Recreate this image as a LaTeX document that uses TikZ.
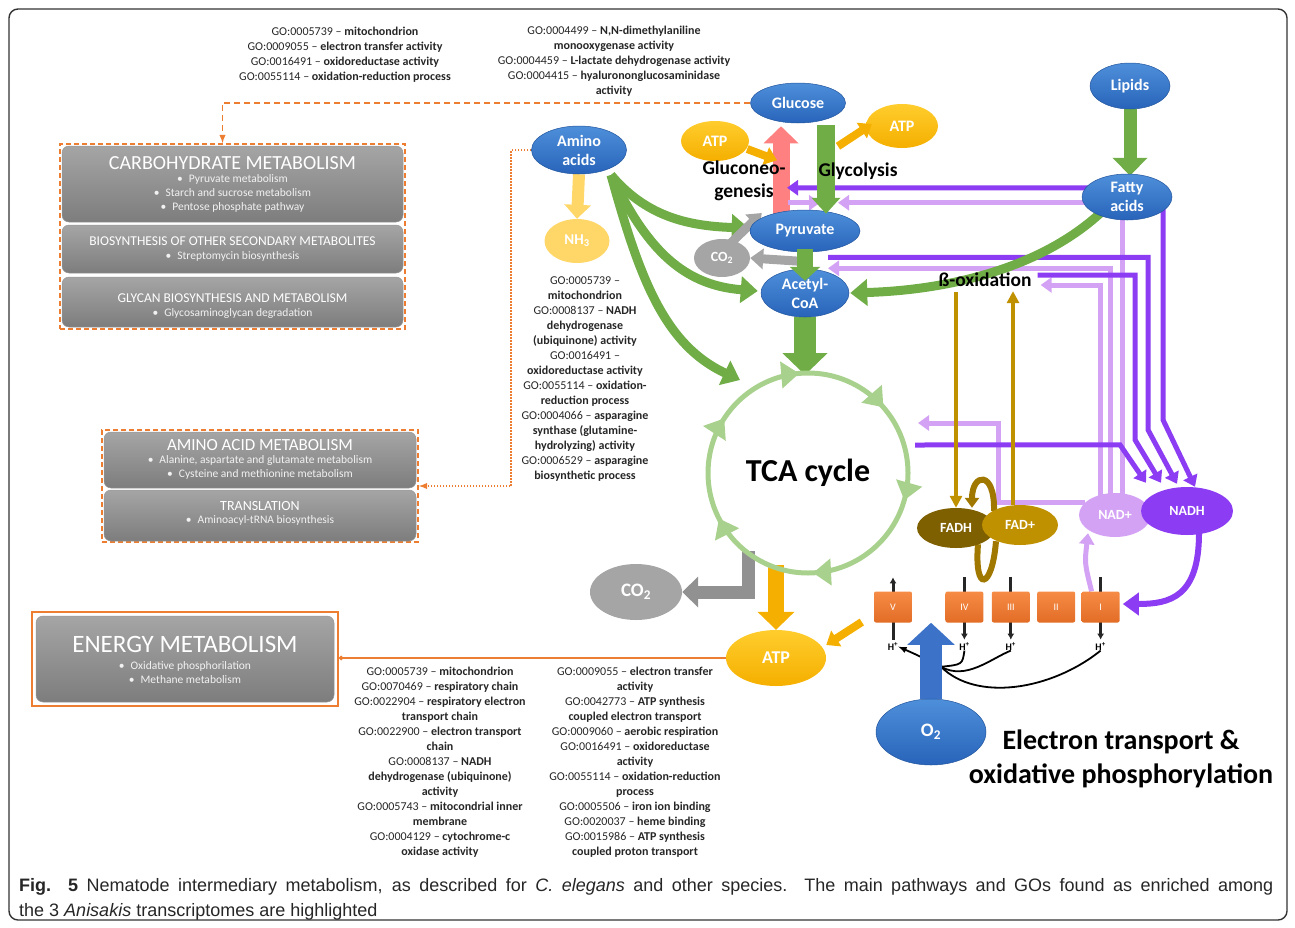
\documentclass[tikz,border=0pt]{standalone}
\usepackage{fontspec}
\setmainfont{Carlito}
\newfontfamily\capfont{Liberation Sans}
\usetikzlibrary{arrows.meta,calc,positioning,shapes.geometric,decorations.markings}
\newcommand{\blt}{\textbullet\hspace{6pt}}
\newcommand{\goid}[1]{GO:#1 –}
\pgfdeclarelayer{bg}
\pgfsetlayers{bg,main}
\definecolor{bluetop}{RGB}{78,143,218}
\definecolor{bluebot}{RGB}{40,100,186}
\definecolor{atptop}{RGB}{255,205,45}
\definecolor{atpbot}{RGB}{245,175,0}
\definecolor{nhyel}{RGB}{255,215,105}
\definecolor{co2gray}{RGB}{165,165,165}
\definecolor{co2dk}{RGB}{145,145,145}
\definecolor{grn}{RGB}{112,173,71}
\definecolor{tcagreen}{RGB}{169,209,142}
\definecolor{salmon}{RGB}{255,128,128}
\definecolor{orangeln}{RGB}{237,125,49}
\definecolor{cmtop}{RGB}{246,140,70}
\definecolor{cmbot}{RGB}{226,108,38}
\definecolor{gold}{RGB}{191,144,0}
\definecolor{goldd}{RGB}{160,120,0}
\definecolor{fadhc}{RGB}{127,96,0}
\definecolor{dpurp}{RGB}{140,60,242}
\definecolor{lpurp}{RGB}{212,162,245}
\definecolor{cattop}{RGB}{165,165,165}
\definecolor{catbot}{RGB}{125,125,125}
\definecolor{o2blue}{RGB}{60,115,200}
\tikzset{
    framesty/.style={draw=black!80, line width=1.4pt, rounded corners=9pt},
    bluesty/.style={ellipse, inner sep=0pt, top color=bluetop, bottom color=bluebot, draw=bluebot!85!black, line width=0.5pt, text=white, align=center, font=\bfseries\fontsize{16}{19}\selectfont},
    atpsty/.style={ellipse, inner sep=0pt, top color=atptop, bottom color=atpbot, text=white, font=\bfseries\fontsize{16}{19}\selectfont},
    nhsty/.style={ellipse, inner sep=0pt, fill=nhyel, text=white, font=\bfseries\fontsize{15}{18}\selectfont},
    co2sty/.style={ellipse, inner sep=0pt, fill=co2gray, text=white, font=\bfseries\fontsize{14}{17}\selectfont},
    fadsty/.style={ellipse, inner sep=0pt, text=white, minimum width=78pt, minimum height=40pt, font=\bfseries\fontsize{14}{17}\selectfont},
    cmplxsty/.style={rectangle, rounded corners=2pt, top color=cmtop, bottom color=cmbot, text=white, minimum width=38pt, minimum height=31pt, inner sep=0pt, font=\fontsize{10}{11}\selectfont},
    hsty/.style={inner sep=0pt, font=\bfseries\fontsize{10}{11}\selectfont},
    gosty/.style={inner sep=0pt, align=center, anchor=north, text=black!85, font=\fontsize{12}{15}\selectfont},
    grpsty/.style={rectangle, inner sep=0pt, draw=orangeln, line width=1.8pt, dash pattern=on 5pt off 3pt},
    catsty/.style={rectangle, rounded corners=7pt, inner sep=0pt, top color=cattop, bottom color=catbot, draw=catbot!80!white, line width=0.5pt},
    cattitsty/.style={inner sep=0pt, text=white},
    catlststy/.style={inner sep=0pt, align=center, text=white!90!gray, font=\fontsize{11.5}{14}\selectfont},
    lblsty/.style={inner sep=0pt, align=center, font=\bfseries\fontsize{19.5}{23}\selectfont},
    tcasty/.style={inner sep=0pt, font=\bfseries\fontsize{32}{36}\selectfont},
    tcaringsty/.style={draw=tcagreen, line width=5pt, postaction={decorate}, decoration={markings,
        mark=at position 0.114 with {\arrowreversed{Triangle[width=26pt,length=18pt,color=tcagreen]}},
        mark=at position 0.264 with {\arrowreversed{Triangle[width=26pt,length=18pt,color=tcagreen]}},
        mark=at position 0.408 with {\arrowreversed{Triangle[width=26pt,length=18pt,color=tcagreen]}},
        mark=at position 0.575 with {\arrowreversed{Triangle[width=26pt,length=18pt,color=tcagreen]}},
        mark=at position 0.758 with {\arrowreversed{Triangle[width=26pt,length=18pt,color=tcagreen]}},
        mark=at position 0.956 with {\arrowreversed{Triangle[width=26pt,length=18pt,color=tcagreen]}}}},
    grncursty/.style={draw=grn, line width=9pt, -{Triangle[width=26pt,length=17pt]}},
    dpsty/.style={draw=dpurp, line width=5pt, -{Triangle[width=15pt,length=11pt]}},
    lpsty/.style={draw=lpurp, line width=5pt, -{Triangle[width=15pt,length=11pt]}},
    goldsty/.style={draw=gold, line width=3.5pt, -{Triangle[width=12pt,length=12pt]}},
    yelsty/.style={draw=atpbot, line width=8pt, -{Triangle[width=18pt,length=12pt]}},
    graysty/.style={draw=co2gray, line width=9pt, -{Triangle[width=20pt,length=13pt]}},
    hlinesty/.style={draw=black!85, line width=3pt},
    blkcursty/.style={draw=black, line width=1.8pt},
    orgsty/.style={draw=orangeln, line width=1.5pt},
    capsty/.style={inner sep=0pt, text width=1254pt, align=justify, text=black!85, font=\capfont\fontsize{18}{25}\selectfont},
}

\begin{document}
\begin{tikzpicture}[x=1pt,y=-1pt,>=latex]
  \useasboundingbox (0,0) rectangle (1295,927);
  \draw[framesty] (9,9) rectangle (1287,920);

  % category boxes
  \node[grpsty, minimum width=345pt, minimum height=185pt] (carbgrp) at (232.5,236.5) {};
  \node[catsty, minimum width=341pt, minimum height=76pt] (carbbox) at (232.5,184) {};
  \node[cattitsty, font=\fontsize{20}{24}\selectfont] (carbtit) at ($(carbbox.north)+(0,17)$) {CARBOHYDRATE METABOLISM};
  \node[catlststy, anchor=north] (carblst) at ($(carbbox.north)+(0,29)$) {\blt Pyruvate metabolism\\ \blt Starch and sucrose metabolism\\ \blt Pentose phosphate pathway};
  \node[catsty, minimum width=341pt, minimum height=48pt] (biosbox) at (232.5,249) {};
  \node[cattitsty, font=\fontsize{13.5}{16}\selectfont] (biostit) at ($(biosbox.north)+(0,16)$) {BIOSYNTHESIS OF OTHER SECONDARY METABOLITES};
  \node[catlststy] (bioslst) at ($(biosbox.north)+(0,32)$) {\blt Streptomycin biosynthesis};
  \node[catsty, minimum width=341pt, minimum height=50pt] (glycbox) at (232.5,302) {};
  \node[cattitsty, font=\fontsize{13.5}{16}\selectfont] (glyctit) at ($(glycbox.north)+(0,21)$) {GLYCAN BIOSYNTHESIS AND METABOLISM};
  \node[catlststy] (glyclst) at ($(glycbox.north)+(0,37)$) {\blt Glycosaminoglycan degradation};

  \node[grpsty, minimum width=316pt, minimum height=112pt] (aagrp) at (260,486) {};
  \node[catsty, minimum width=312pt, minimum height=56pt] (aabox) at (260,460) {};
  \node[cattitsty, font=\fontsize{17}{20}\selectfont] (aatit) at ($(aabox.north)+(0,13)$) {AMINO ACID METABOLISM};
  \node[catlststy, anchor=north] (aalst) at ($(aabox.north)+(0,24)$) {\blt Alanine, aspartate and glutamate metabolism\\ \blt Cysteine and methionine metabolism};
  \node[catsty, minimum width=312pt, minimum height=51pt] (trbox) at (260,515.5) {};
  \node[cattitsty, font=\fontsize{14}{17}\selectfont] (trtit) at ($(trbox.north)+(0,16)$) {TRANSLATION};
  \node[catlststy] (trlst) at ($(trbox.north)+(0,31)$) {\blt Aminoacyl-tRNA biosynthesis};

  \node[rectangle, draw=orangeln, line width=1.8pt, minimum width=306pt, minimum height=94pt, inner sep=0pt] (engrp) at (185,659) {};
  \node[catsty, minimum width=298pt, minimum height=86pt] (enbox) at (185,659) {};
  \node[cattitsty, font=\fontsize{25}{28}\selectfont] (entit) at ($(enbox.north)+(0,29)$) {ENERGY METABOLISM};
  \node[catlststy, anchor=north] (enlst) at ($(enbox.north)+(0,46)$) {\blt Oxidative phosphorilation\\ \blt Methane metabolism};

  % GO terms
  \node[gosty] (gotl) at (345,27) {\goid{0005739} \textbf{mitochondrion}\\ \goid{0009055} \textbf{electron transfer activity}\\ \goid{0016491} \textbf{oxidoreductase activity}\\ \goid{0055114} \textbf{oxidation-reduction process}};
  \node[gosty] (gotm) at (614,26) {\goid{0004499} \textbf{N,N-dimethylaniline}\\ \textbf{monooxygenase activity}\\ \goid{0004459} \textbf{L-lactate dehydrogenase activity}\\ \goid{0004415} \textbf{hyalurononglucosaminidase}\\ \textbf{activity}};
  \node[gosty] (gomid) at (585,277) {\goid{0005739}\\ \textbf{mitochondrion}\\ \goid{0008137} \textbf{NADH}\\ \textbf{dehydrogenase}\\ \textbf{(ubiquinone) activity}\\ \goid{0016491}\\ \textbf{oxidoreductase activity}\\ \goid{0055114} \textbf{oxidation-}\\ \textbf{reduction process}\\ \goid{0004066} \textbf{asparagine}\\ \textbf{synthase (glutamine-}\\ \textbf{hydrolyzing) activity}\\ \goid{0006529} \textbf{asparagine}\\ \textbf{biosynthetic process}};
  \node[gosty] (gobl) at (440,667) {\goid{0005739} \textbf{mitochondrion}\\ \goid{0070469} \textbf{respiratory chain}\\ \goid{0022904} \textbf{respiratory electron}\\ \textbf{transport chain}\\ \goid{0022900} \textbf{electron transport}\\ \textbf{chain}\\ \goid{0008137} \textbf{NADH}\\ \textbf{dehydrogenase (ubiquinone)}\\ \textbf{activity}\\ \goid{0005743} \textbf{mitocondrial inner}\\ \textbf{membrane}\\ \goid{0004129} \textbf{cytochrome-c}\\ \textbf{oxidase activity}};
  \node[gosty] (gobr) at (635,667) {\goid{0009055} \textbf{electron transfer}\\ \textbf{activity}\\ \goid{0042773} \textbf{ATP synthesis}\\ \textbf{coupled electron transport}\\ \goid{0009060} \textbf{aerobic respiration}\\ \goid{0016491} \textbf{oxidoreductase}\\ \textbf{activity}\\ \goid{0055114} \textbf{oxidation-reduction}\\ \textbf{process}\\ \goid{0005506} \textbf{iron ion binding}\\ \goid{0020037} \textbf{heme binding}\\ \goid{0015986} \textbf{ATP synthesis}\\ \textbf{coupled proton transport}};

  % metabolites
  \node[bluesty, minimum width=95pt, minimum height=40pt] (glu) at (798,103) {Glucose};
  \node[bluesty, minimum width=80pt, minimum height=46pt] (lip) at (1130,86) {Lipids};
  \node[bluesty, minimum width=95pt, minimum height=48pt] (amino) at (579,150) {Amino\\acids};
  \node[bluesty, minimum width=90pt, minimum height=46pt] (fatty) at (1127,197) {Fatty\\acids};
  \node[bluesty, minimum width=110pt, minimum height=42pt] (pyr) at (805,231) {Pyruvate};
  \node[bluesty, minimum width=88pt, minimum height=48pt] (acoa) at (805,293) {Acetyl-\\CoA};
  \node[atpsty, minimum width=68pt, minimum height=40pt] (atpl) at (715,141) {ATP};
  \node[atpsty, minimum width=72pt, minimum height=44pt] (atpr) at (902,126) {ATP};
  \node[atpsty, minimum width=100pt, minimum height=56pt, font=\bfseries\fontsize{18}{21}\selectfont] (atpb) at (776,658) {ATP};
  \node[nhsty, minimum width=65pt, minimum height=44pt] (nh3) at (577,241) {NH\textsubscript{3}};
  \node[co2sty, minimum width=56pt, minimum height=38pt] (co2s) at (722,258) {CO\textsubscript{2}};
  \node[co2sty, minimum width=92pt, minimum height=56pt, font=\bfseries\fontsize{19}{22}\selectfont] (co2b) at (636,592) {CO\textsubscript{2}};
  \node[fadsty, fill=fadhc] (fadh) at (956,528) {FADH};
  \node[fadsty, fill=gold, minimum width=76pt] (fadp) at (1020,525) {FAD+};
  \node[fadsty, fill=lpurp, minimum width=72pt, minimum height=44pt] (nadp) at (1115,515) {NAD+};
  \node[fadsty, fill=dpurp, minimum width=92pt, minimum height=48pt] (nadh) at (1187,511) {NADH};
  \node[bluesty, minimum width=110pt, minimum height=66pt, font=\bfseries\fontsize{19}{22}\selectfont] (o2) at (931,732) {O\textsubscript{2}};
  \node[tcasty] (tca) at (808,473) {TCA cycle};
  \node[lblsty] (boxt) at (985,280) {ß-oxidation};

  % respiratory chain
  \node[cmplxsty] (cV) at (893,607) {V};
  \node[cmplxsty, right=33pt of cV] (cIV) {IV};
  \node[cmplxsty, right=8pt of cIV] (cIII) {III};
  \node[cmplxsty, right=7pt of cIII] (cII) {II};
  \node[cmplxsty, right=6pt of cII] (cI) {I};
  \node[hsty, below=20pt of cV] (hV) {H\textsuperscript{+}};
  \node[hsty, below=20pt of cIV] (hIV) {H\textsuperscript{+}};
  \node[hsty, below=20pt of cIII] (hIII) {H\textsuperscript{+}};
  \node[hsty, below=20pt of cI] (hI) {H\textsuperscript{+}};
  \node[lblsty, font=\bfseries\fontsize{28}{34}\selectfont] (etxt) at (1121,759) {Electron transport \&\\oxidative phosphorylation};

  \begin{pgfonlayer}{bg}
    \draw[orgsty, line width=1.8pt, dash pattern=on 6pt off 4pt, ->] (glu.west) -| ($(carbgrp.north)+(-10,0)$);
    \draw[orgsty, line width=1.8pt, dash pattern=on 1.5pt off 1.5pt, ->] (amino.west) -- ++(-20,0) |- (aagrp.east);
    \draw[orgsty, -{Circle[length=4.5pt]}] (atpb.west) -- (engrp.east |- atpb.west);
    % glucose / pyruvate
    \draw[draw=salmon, line width=17pt, -{Triangle[width=34pt,length=17pt]}] ($(pyr.north)+(-24,6)$) -- ($(glu.south)+(-17,3)$);
    \draw[yelsty] ($(atpl.east)+(-2,8)$) -- ($(glu.south)+(-21,37)$);
    % purple lines
    \draw[lpsty] ($(nadp.north)+(7,5)$) |- ($(pyr.north)+(33,-7)$);
    \draw[lpsty] ($(nadp.north)+(-5,5)$) |- ($(pyr.south)+(23,16)$);
    \draw[lpsty] ($(nadp.north)+(-15,5)$) |- ($(boxt.east)+(9,5)$);
    \draw[lpsty] ($(nadp.west)+(6,-13)$) -| ($(tca.center)+(190,-50)$) -- ($(tca.center)+(110,-50)$);
    \draw[lpsty] ($(pyr.north)+(-17,-7)$) -- ($(pyr.north)+(15,-7)$);
    \draw[lpsty] ($(cI.north)+(-9,0)$) .. controls ($(cI.north)+(-16,-28)$) .. ($(nadp.south)+(-27,-4)$);
    \draw[dpsty, {Triangle[width=15pt,length=11pt]}-{Triangle[width=15pt,length=11pt]}] ($(pyr.north)+(-18,-22)$) -| ($(nadh.north)+(-24,-67)$) -- ($(nadh.north)+(8,0)$);
    \draw[dpsty] ($(pyr.south)+(23,5)$) -| ($(nadh.north)+(-39,-57)$) -- ($(nadh.north)+(-10,-3)$);
    \draw[dpsty] ($(boxt.east)+(6,-5)$) -| ($(nadh.north)+(-52,-47)$) -- ($(nadh.north)+(-26,-4)$);
    \draw[dpsty] ($(tca.center)+(107,-28)$) -- ($(nadh.north)+(-67,-42)$) -- ($(nadh.north)+(-41,-4)$);
    \draw[draw=dpurp, line width=6pt, -{Triangle[width=22pt,length=16pt]}] ($(nadh.south)+(12,-2)$) .. controls ($(nadh.south)+(12,62)$) and ($(cI.east)+(50,-3)$) .. ($(cI.east)+(3,-3)$);
    % green routes
    \draw[grncursty] ($(amino.center)+(32,25)$) .. controls (645,215) and (685,226) .. ($(pyr.west)+(-1,-3)$);
    \draw[grncursty] ($(amino.center)+(32,25)$) .. controls (645,245) and (680,285) .. ($(acoa.west)+(-3,-2)$);
    \draw[grncursty] ($(amino.center)+(32,25)$) .. controls (640,280) and (665,345) .. ($(tca.center)+(-68,-93)$);
    \draw[grncursty] ($(fatty.south west)+(5,0)$) .. controls (1040,268) and (950,290) .. ($(acoa.east)+(1,0)$);
    \draw[draw=grn, line width=13pt, -{Triangle[width=34pt,length=18pt]}] (lip.south) -- ($(fatty.north)+(3,2)$);
    \draw[draw=nhyel, line width=12pt, -{Triangle[width=26pt,length=14pt]}] (amino.south) -- (nh3.north);
    \draw[draw=grn, line width=22pt, -{Triangle[width=44pt,length=22pt]}] (acoa.south) -- ($(tca.center)+(-3,-98)$);
    \draw[graysty] ($(pyr.south)+(-5,9)$) -- (co2s.east);
    \draw[graysty] ($(co2s.north)+(8,5)$) -- ($(pyr.west)+(12,-18)$);
    % TCA outputs
    \draw[draw=co2dk, line width=13pt, -{Triangle[width=30pt,length=16pt]}] ($(tca.center)+(-60,78)$) |- (co2b.east);
    \draw[draw=atpbot, line width=16pt, -{Triangle[width=36pt,length=18pt]}] ($(tca.center)+(-32,92)$) -- (atpb.north);
    % beta-oxidation
    \draw[goldsty] ($(boxt.south)+(-29,5)$) -- (fadh.north);
    \draw[goldsty] ($(fadp.north)+(-7,0)$) -- ($(boxt.south)+(28,4)$);
    \draw[draw=goldd, line width=6pt, -{Triangle[width=14pt,length=10pt]}] ($(fadp.north)+(-26,6)$) .. controls ($(fadp.north)+(-25,-35)$) and ($(fadh.north)+(16,-35)$) .. ($(fadh.north)+(16,0)$);
    \draw[draw=goldd, line width=6pt] ($(fadh.south)+(22,-4)$) .. controls ($(fadh.south)+(18,45)$) and ($(fadp.south)+(-28,45)$) .. ($(fadp.south)+(-24,-4)$);
    % respiratory chain
    \draw[hlinesty, {Latex[length=6pt,width=7pt]}-] ($(cV.north)+(0,-14)$) -- ($(cV.south)+(0,17)$);
    \draw[hlinesty, -{Latex[length=6pt,width=7pt]}] ($(cIV.north)+(0,-14)$) -- ($(cIV.south)+(0,17)$);
    \draw[hlinesty, -{Latex[length=6pt,width=7pt]}] ($(cIII.north)+(0,-14)$) -- ($(cIII.south)+(0,17)$);
    \draw[hlinesty, -{Latex[length=6pt,width=7pt]}] ($(cI.north)+(0,-14)$) -- ($(cI.south)+(0,17)$);
    \draw[yelsty] ($(cV.west)+(-12,15)$) -- ($(atpb.east)+(0,-13)$);
    \coordinate (hsrc) at ($(o2.north)+(10,-32)$);
    \draw[blkcursty, ->] (hsrc) .. controls ($(hV.east)+(18,8)$) .. (hV.east);
    \draw[blkcursty] (hsrc) .. controls ($(hIV.south)+(-2,14)$) .. (hIV.south);
    \draw[blkcursty] (hsrc) .. controls ($(hsrc)+(25,14)$) and ($(hIII.south)+(-20,8)$) .. (hIII.south);
    \draw[blkcursty] (hsrc) .. controls ($(hsrc)+(35,35)$) and ($(hI.south)+(-50,40)$) .. (hI.south);
    \draw[draw=o2blue, line width=22pt, -{Triangle[width=46pt,length=22pt]}] (o2.north) -- ++(0,-76);
  \end{pgfonlayer}

  % arrows over the nodes
  \draw[draw=grn, line width=18pt, -{Triangle[width=28pt,length=16pt]}] ($(glu.south)+(28,2)$) -- ($(pyr.north)+(21,4)$);
  \draw[draw=grn, line width=16pt, -{Triangle[width=30pt,length=14pt]}] ($(pyr.south)+(0,-3)$) -- ($(acoa.north)+(0,12)$);
  \draw[yelsty] ($(glu.south)+(40,23)$) -- ($(atpr.west)+(6,-2)$);
  \draw[tcaringsty] (tca.center) circle[radius=100pt];
  \node[lblsty] (gngt) at (744,181) {Gluconeo-\\genesis};
  \node[lblsty] (glyt) at (858,171) {Glycolysis};

  \node[capsty, anchor=north west] (cap) at (19,878) {\textbf{Fig. 5} Nematode intermediary metabolism, as described for \textit{C. elegans} and other species. The main pathways and GOs found as enriched among\linebreak the 3 \textit{Anisakis} transcriptomes are highlighted};
\end{tikzpicture}
\end{document}
